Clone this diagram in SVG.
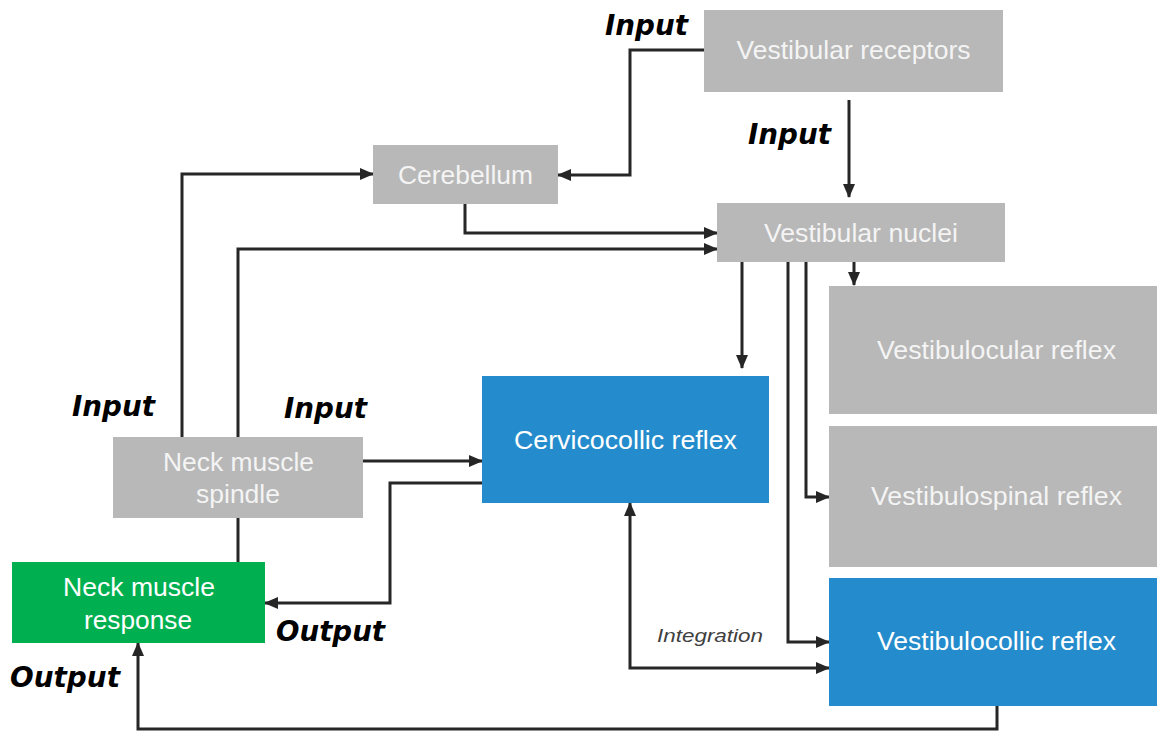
<svg xmlns="http://www.w3.org/2000/svg" width="1157" height="731" viewBox="0 0 1157 731">
<style>
.gray{fill:#b8b8b8}
.blue{fill:#248ccc}
.green{fill:#00b050}
.nt{font-family:"Liberation Sans",Arial,sans-serif;font-size:25px;fill:#f4f4f4;text-anchor:middle}
.wt{fill:#ffffff}
.lbl{font-family:"DejaVu Sans",sans-serif;font-size:28px;font-weight:bold;font-style:italic;fill:#000}
.integ{font-family:"Liberation Sans",Arial,sans-serif;font-size:19px;font-style:italic;fill:#404040}
.conn{fill:none;stroke:#262626;stroke-width:3}
</style>
<defs>
<marker id="arr" markerWidth="14" markerHeight="12" refX="13" refY="6" orient="auto" markerUnits="userSpaceOnUse">
<path d="M0,0 L14,6 L0,12 Z" fill="#262626"/>
</marker>
<marker id="arrs" markerWidth="14" markerHeight="12" refX="13" refY="6" orient="auto-start-reverse" markerUnits="userSpaceOnUse">
<path d="M0,0 L14,6 L0,12 Z" fill="#262626"/>
</marker>
</defs>

<g id="connectors">
<path class="conn" d="M704,50 H630 V175 H558" marker-end="url(#arr)"/>
<path class="conn" d="M849,100 V197" marker-end="url(#arr)"/>
<path class="conn" d="M465,204 V233 H717" marker-end="url(#arr)"/>
<path class="conn" d="M238,437 V249 H717" marker-end="url(#arr)"/>
<path class="conn" d="M182,437 V174 H373" marker-end="url(#arr)"/>
<path class="conn" d="M363,461 H482" marker-end="url(#arr)"/>
<path class="conn" d="M482,483 H390 V603 H265" marker-end="url(#arr)"/>
<path class="conn" d="M238,518 V562"/>
<path class="conn" d="M997,706 V729 H138 V643" marker-end="url(#arr)"/>
<path class="conn" d="M742,262 V368" marker-end="url(#arr)"/>
<path class="conn" d="M788,262 V642 H829" marker-end="url(#arr)"/>
<path class="conn" d="M806,262 V497 H829" marker-end="url(#arr)"/>
<path class="conn" d="M854,262 V285" marker-end="url(#arr)"/>
<path class="conn" d="M630,503 V668 H829" marker-start="url(#arrs)" marker-end="url(#arr)"/>
</g>

<g id="vestibular-receptors">
<rect class="gray" x="704" y="10" width="299" height="82"/>
<text class="nt" x="853.5" y="59" textLength="234" lengthAdjust="spacingAndGlyphs">Vestibular receptors</text>
</g>
<g id="cerebellum">
<rect class="gray" x="373" y="145" width="185" height="59"/>
<text class="nt" x="465.5" y="184" textLength="135" lengthAdjust="spacingAndGlyphs">Cerebellum</text>
</g>
<g id="vestibular-nuclei">
<rect class="gray" x="717" y="203" width="288" height="59"/>
<text class="nt" x="861" y="242" textLength="194" lengthAdjust="spacingAndGlyphs">Vestibular nuclei</text>
</g>
<g id="vestibulocular-reflex">
<rect class="gray" x="829" y="286" width="328" height="128"/>
<text class="nt" x="996.5" y="359" textLength="239" lengthAdjust="spacingAndGlyphs">Vestibulocular reflex</text>
</g>
<g id="vestibulospinal-reflex">
<rect class="gray" x="829" y="426" width="328" height="141"/>
<text class="nt" x="996.5" y="505" textLength="251" lengthAdjust="spacingAndGlyphs">Vestibulospinal reflex</text>
</g>
<g id="vestibulocollic-reflex">
<rect class="blue" x="829" y="578" width="328" height="128"/>
<text class="nt wt" x="996.5" y="650" textLength="239" lengthAdjust="spacingAndGlyphs">Vestibulocollic reflex</text>
</g>
<g id="cervicocollic-reflex">
<rect class="blue" x="482" y="376" width="287" height="127"/>
<text class="nt wt" x="625.5" y="449" textLength="223" lengthAdjust="spacingAndGlyphs">Cervicocollic reflex</text>
</g>
<g id="neck-muscle-spindle">
<rect class="gray" x="113" y="437" width="250" height="81"/>
<text class="nt" x="238.5" y="471" textLength="151" lengthAdjust="spacingAndGlyphs">Neck muscle</text>
<text class="nt" x="238" y="503" textLength="84" lengthAdjust="spacingAndGlyphs">spindle</text>
</g>
<g id="neck-muscle-response">
<rect class="green" x="12" y="562" width="253" height="81"/>
<text class="nt wt" x="139" y="596" textLength="152" lengthAdjust="spacingAndGlyphs">Neck muscle</text>
<text class="nt wt" x="138" y="629" textLength="108" lengthAdjust="spacingAndGlyphs">response</text>
</g>

<g id="labels">
<text class="lbl" x="605" y="35" textLength="83" lengthAdjust="spacingAndGlyphs">Input</text>
<text class="lbl" x="748" y="144" textLength="83" lengthAdjust="spacingAndGlyphs">Input</text>
<text class="lbl" x="72" y="416" textLength="83" lengthAdjust="spacingAndGlyphs">Input</text>
<text class="lbl" x="284" y="418" textLength="83" lengthAdjust="spacingAndGlyphs">Input</text>
<text class="lbl" x="276" y="641" textLength="109" lengthAdjust="spacingAndGlyphs">Output</text>
<text class="lbl" x="10" y="687" textLength="110" lengthAdjust="spacingAndGlyphs">Output</text>
<text class="integ" x="657" y="642" textLength="106" lengthAdjust="spacingAndGlyphs">Integration</text>
</g>
</svg>
